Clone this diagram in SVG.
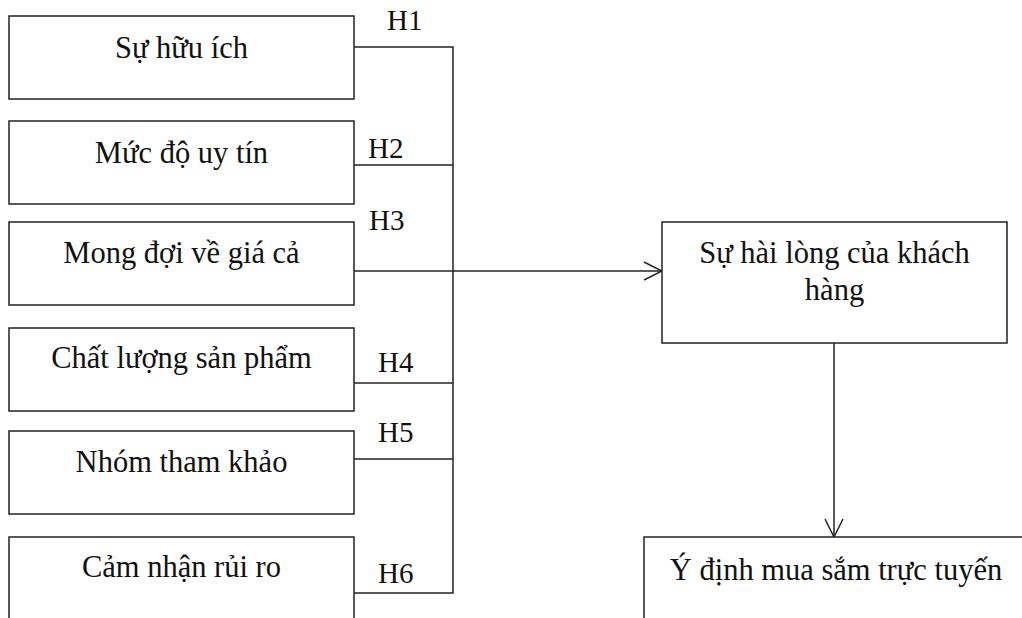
<svg xmlns="http://www.w3.org/2000/svg" width="1022" height="618" viewBox="0 0 1022 618">
  <style>
    .box { fill: #ffffff; stroke: #222222; stroke-width: 1.5; }
    .lbl { font-family: "Liberation Serif", "Times New Roman", serif; font-size: 30.5px; fill: #111111; }
    .hyp { font-family: "Liberation Serif", "Times New Roman", serif; font-size: 29px; fill: #111111; }
    .mid { text-anchor: middle; }
    .wire { fill: none; stroke: #222222; stroke-width: 1.5; }
  </style>
  <defs>
    <marker id="open-arrow" viewBox="0 0 20 20" refX="19" refY="10" markerWidth="20" markerHeight="20" markerUnits="userSpaceOnUse" orient="auto">
      <path d="M1 1 L19 10 L1 19" fill="none" stroke="#222222" stroke-width="1.5"/>
    </marker>
  </defs>
  <rect width="1022" height="618" fill="#ffffff"/>

  <!-- connectors -->
  <g id="connectors">
    <path class="wire" d="M354 47 H453 V593 H354"/>
    <path class="wire" d="M354 165 H453"/>
    <path class="wire" d="M354 383 H453"/>
    <path class="wire" d="M354 459 H453"/>
    <path class="wire" d="M354 271 H662" marker-end="url(#open-arrow)"/>
    <path class="wire" d="M834 343 V537" marker-end="url(#open-arrow)"/>
    <text class="hyp" x="387" y="30">H1</text>
    <text class="hyp" x="368" y="158">H2</text>
    <text class="hyp" x="369" y="230">H3</text>
    <text class="hyp" x="378" y="372">H4</text>
    <text class="hyp" x="378" y="442">H5</text>
    <text class="hyp" x="378" y="583">H6</text>
  </g>

  <!-- factor boxes -->
  <g id="su-huu-ich">
    <rect class="box" x="9" y="16" width="345" height="83"/>
    <text class="lbl mid" x="181.5" y="58">Sự hữu ích</text>
  </g>
  <g id="muc-do-uy-tin">
    <rect class="box" x="9" y="121" width="345" height="83"/>
    <text class="lbl mid" x="181.5" y="163">Mức độ uy tín</text>
  </g>
  <g id="mong-doi-gia-ca">
    <rect class="box" x="9" y="222" width="345" height="83"/>
    <text class="lbl mid" x="181.5" y="263">Mong đợi về giá cả</text>
  </g>
  <g id="chat-luong-san-pham">
    <rect class="box" x="9" y="328" width="345" height="83"/>
    <text class="lbl mid" x="181.5" y="368">Chất lượng sản phẩm</text>
  </g>
  <g id="nhom-tham-khao">
    <rect class="box" x="9" y="431" width="345" height="83"/>
    <text class="lbl mid" x="181.5" y="472">Nhóm tham khảo</text>
  </g>
  <g id="cam-nhan-rui-ro">
    <rect class="box" x="9" y="537" width="345" height="90"/>
    <text class="lbl mid" x="181.5" y="577">Cảm nhận rủi ro</text>
  </g>

  <!-- outcome boxes -->
  <g id="su-hai-long">
    <rect class="box" x="662" y="222" width="345" height="121"/>
    <text class="lbl mid" x="834.5" y="263">Sự hài lòng của khách</text>
    <text class="lbl mid" x="834.5" y="300">hàng</text>
  </g>
  <g id="y-dinh-mua-sam">
    <rect class="box" x="644" y="537" width="390" height="90"/>
    <text class="lbl mid" x="836" y="580">Ý định mua sắm trực tuyến</text>
  </g>
</svg>
